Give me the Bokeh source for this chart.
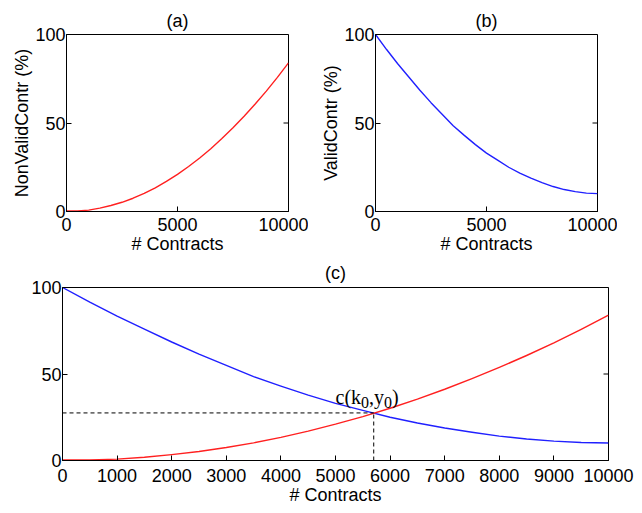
from bokeh.plotting import figure
from bokeh.layouts import column, row
from bokeh.models import Range1d, FixedTicker, ColumnDataSource
from bokeh.core.properties import value
from bokeh.embed import file_html
from bokeh.resources import INLINE

# ---- data ----
contracts = [0, 500, 1000, 1500, 2000, 2500, 3000, 3500, 4000, 4500, 5000,
             5500, 6000, 6500, 7000, 7500, 8000, 8500, 9000, 9500, 10000]
non_valid = [0.3, 0.3, 0.8, 1.9, 3.4, 5.2, 7.5, 10.2, 13.4, 17.0, 21.0,
             25.4, 30.2, 35.5, 41.2, 47.3, 53.8, 60.7, 68.0, 75.8, 84.0]
valid = [100, 91.5, 83.5, 76.0, 68.5, 61.5, 55.0, 48.5, 43.0, 37.8, 33.0,
         29.0, 25.0, 21.7, 18.8, 16.3, 14.1, 12.4, 11.2, 10.4, 10.1]
k0 = 5700
y0 = 27.5
annot_x = 5000
annot_y = 36.6
x_min, x_max = 0, 10000
y_min, y_max = 0, 100
ticks_ab = [0, 5000, 10000]
ticks_c = [0, 1000, 2000, 3000, 4000, 5000, 6000, 7000, 8000, 9000, 10000]
ticks_y = [0, 50, 100]
titles = ["(a)", "(b)", "(c)"]
xlabel = "# Contracts"
ylabel_a = "NonValidContr (%)"
ylabel_b = "ValidContr (%)"
annot_parts = ["c(k", "0", ",y", "0", ")"]

# ---- styles ----
FONT = "Liberation Sans"
TICK_SIZE = "18px"
LAB_SIZE = "18px"
RED = "#ff2020"
BLUE = "#2020ff"
annot_sizes = ["20px", "16px", "20px", "16px", "20px"]
annot_dx = [0, 25.5, 33.5, 48.5, 56.5]
annot_dy = [0, 5, 0, 5, 0]


def make(title, w, h, left, right, top, bottom, xticks, tstand):
    p = figure(width=w, height=h, output_backend="svg", toolbar_location=None,
               x_range=Range1d(x_min, x_max), y_range=Range1d(y_min, y_max),
               min_border_left=left, min_border_right=right,
               min_border_top=top, min_border_bottom=bottom)
    p.title.text = title
    p.title.align = "center"
    p.title.text_font = FONT
    p.title.text_font_size = LAB_SIZE
    p.title.text_font_style = "normal"
    p.title.text_color = "black"
    p.title.standoff = tstand
    p.grid.visible = False
    p.outline_line_color = "black"
    p.outline_line_alpha = 1
    p.outline_line_width = 1
    p.background_fill_color = "white"
    p.border_fill_color = "white"
    p.xaxis.ticker = FixedTicker(ticks=xticks)
    p.yaxis.ticker = FixedTicker(ticks=ticks_y)
    for ax in p.xaxis + p.yaxis:
        ax.major_tick_in = 5
        ax.major_tick_out = 0
        ax.minor_tick_line_color = None
        ax.axis_line_color = "black"
        ax.major_tick_line_color = "black"
        ax.major_label_text_font = FONT
        ax.major_label_text_font_size = TICK_SIZE
        ax.major_label_text_color = "black"
        ax.axis_label_text_font = FONT
        ax.axis_label_text_font_size = LAB_SIZE
        ax.axis_label_text_font_style = "normal"
        ax.axis_label_text_color = "black"
        ax.axis_label_standoff = 0
    p.yaxis.major_label_standoff = 1
    # inward ticks on the right edge (half of each dash is clipped by the frame)
    p.scatter(x=[x_max] * len(ticks_y), y=ticks_y, marker="dash", size=10,
              line_color="black", line_width=1)
    return p


p1 = make(titles[0], 308, 256, 66, 20, 34, 45, ticks_ab, 8)
p1.xaxis[0].axis_label = xlabel
p1.xaxis.major_label_standoff = 6
p1.yaxis[0].axis_label = ylabel_a
p1.line(contracts, non_valid, line_color=RED, line_width=1.4, line_join="round")

p2 = make(titles[1], 309, 256, 67, 20, 34, 45, ticks_ab, 8)
p2.xaxis[0].axis_label = xlabel
p2.xaxis.major_label_standoff = 6
p2.yaxis[0].axis_label = ylabel_b
p2.line(contracts, valid, line_color=BLUE, line_width=1.4, line_join="round")

p3 = make(titles[2], 634, 251, 62, 26, 31, 45, ticks_c, 9)
p3.xaxis[0].axis_label = xlabel
p3.xaxis.major_label_standoff = 8
p3.line(contracts, valid, line_color=BLUE, line_width=1.4, line_join="round")
p3.line(contracts, non_valid, line_color=RED, line_width=1.4, line_join="round")
p3.line([x_min, k0], [y0, y0], line_color="black", line_width=1, line_dash="4 3")
p3.line([k0, k0], [y_min, y0], line_color="black", line_width=1, line_dash="4 3")
src = ColumnDataSource(dict(x=[annot_x] * len(annot_parts), y=[annot_y] * len(annot_parts),
                            t=annot_parts, s=annot_sizes, dx=annot_dx, dy=annot_dy))
p3.text(x="x", y="y", text="t", x_offset="dx", y_offset="dy", text_font_size="s",
        source=src, text_font=value("Liberation Serif"), text_color="black",
        text_baseline="alphabetic")

layout = column(row(p1, p2), p3)
open("out.html", "w").write(file_html(layout, INLINE))
